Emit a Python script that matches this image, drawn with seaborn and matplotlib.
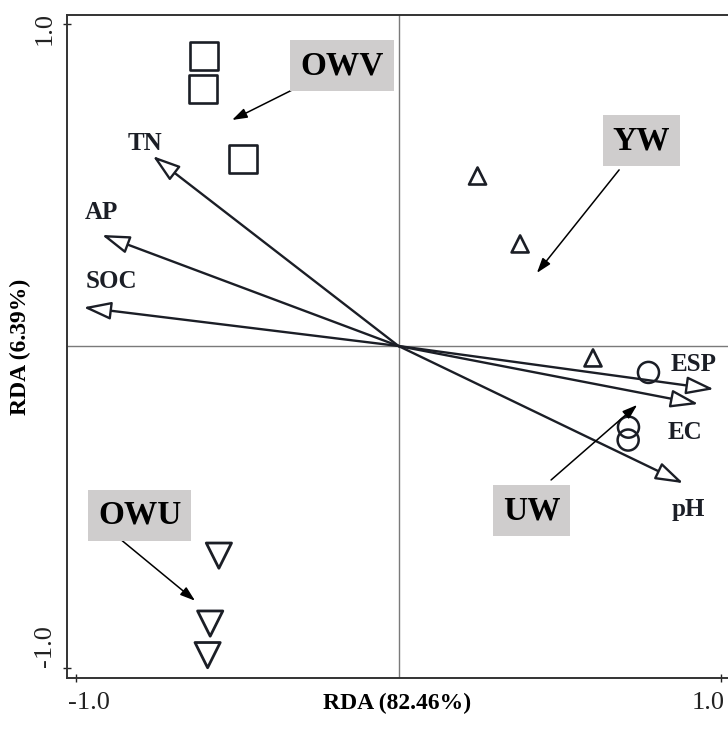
import numpy as np
import pandas as pd
import seaborn as sns
import matplotlib.pyplot as plt
from matplotlib.transforms import ScaledTranslation

# site scores (RDA1, RDA2) per group
owv_x = [-0.603, -0.606, -0.482]
owv_y = [0.901, 0.798, 0.581]
yw_x = [0.245, 0.377, 0.603]
yw_y = [0.528, 0.317, -0.037]
uw_x = [0.775, 0.713, 0.712]
uw_y = [-0.082, -0.252, -0.292]
owu_x = [-0.557, -0.584, -0.592]
owu_y = [-0.651, -0.862, -0.960]

# environmental vectors
env_names = ["TN", "AP", "SOC", "ESP", "EC", "pH"]
env_x = [-0.762, -0.920, -0.977, 0.978, 0.930, 0.883]
env_y = [0.590, 0.345, 0.120, -0.134, -0.180, -0.426]
env_lab_x = [-0.786, -0.922, -0.891, 0.915, 0.888, 0.898]
env_lab_y = [0.630, 0.416, 0.199, -0.056, -0.270, -0.509]

# group call-outs: label position, arrow start, arrow end
grp_names = ["OWV", "YW", "OWU", "UW"]
grp_lab_x = [-0.175, 0.753, -0.803, 0.412]
grp_lab_y = [0.870, 0.638, -0.525, -0.511]
grp_start_x = [-0.312, 0.684, -0.860, 0.473]
grp_start_y = [0.804, 0.547, -0.602, -0.416]
grp_end_x = [-0.516, 0.429, -0.631, 0.740]
grp_end_y = [0.702, 0.227, -0.791, -0.183]

tick_vals = [-1.0, 1.0]
tick_labels = ["-1.0", "1.0"]

sites = pd.DataFrame({
    "RDA1": owv_x + yw_x + uw_x + owu_x,
    "RDA2": owv_y + yw_y + uw_y + owu_y,
    "group": ["OWV"] * 3 + ["YW"] * 3 + ["UW"] * 3 + ["OWU"] * 3,
})

plt.rcParams["font.family"] = ["Liberation Serif", "DejaVu Serif"]

fig = plt.figure(figsize=(7.28, 7.31), dpi=100)
ax = fig.add_axes([67 / 728, 1 - 678 / 731, 661 / 728, 663 / 731])

ink = "#1b1e26"
marker_style = {
    "OWV": ("s", 420, 1.9),
    "YW": ("^", 150, 1.9),
    "UW": ("o", 230, 1.8),
    "OWU": ("v", 330, 2.0),
}
for g, (m, s, lw) in marker_style.items():
    sub = sites[sites["group"] == g]
    sns.scatterplot(data=sub, x="RDA1", y="RDA2", marker=m, s=s,
                    facecolor="none", edgecolor=ink, linewidth=lw,
                    ax=ax, zorder=3)

# cross lines through origin
ax.axhline(0, color="#7a7a7a", lw=1.0, zorder=1)
ax.axvline(0, color="#7a7a7a", lw=1.0, zorder=1)

# environmental arrows with open heads
for name, x, y, lx, ly in zip(env_names, env_x, env_y, env_lab_x, env_lab_y):
    ax.annotate("", xy=(x, y), xytext=(0, 0),
                arrowprops=dict(arrowstyle="-|>,head_length=1.7,head_width=0.55",
                                fc="white", ec=ink, lw=1.7,
                                shrinkA=0, shrinkB=0, mutation_scale=10),
                zorder=4)
    ax.text(lx, ly, name, fontsize=18, fontweight="bold", color=ink,
            ha="center", va="center", zorder=5)

# group labels in grey boxes
for name, lx, ly, sx, sy, ex, ey in zip(grp_names, grp_lab_x, grp_lab_y,
                                        grp_start_x, grp_start_y,
                                        grp_end_x, grp_end_y):
    ax.text(lx, ly, name, fontsize=24, fontweight="bold", color="black",
            ha="center", va="center", zorder=5,
            bbox=dict(boxstyle="square,pad=0.3", fc="#cfcdcd", ec="none"))
    ax.annotate("", xy=(ex, ey), xytext=(sx, sy),
                arrowprops=dict(arrowstyle="-|>,head_length=0.9,head_width=0.3",
                                fc="black", ec="black", lw=1.1,
                                shrinkA=0, shrinkB=0, mutation_scale=10),
                zorder=4)

ax.set_xlim(-1.028, 1.0216)
ax.set_ylim(-1.031, 1.028)
ax.set_xticks(tick_vals)
ax.set_xticklabels(tick_labels)
ax.set_yticks(tick_vals)
ax.set_yticklabels(tick_labels, rotation=90, va="center")
ax.tick_params(axis="both", direction="inout", length=6, width=1.0,
               labelsize=19, colors="#222222")
ax.tick_params(axis="x", pad=7)
ax.tick_params(axis="y", pad=5)

# end labels sit slightly inward, as in the original layout
xl = ax.get_xticklabels()
xl[0].set_transform(xl[0].get_transform() + ScaledTranslation(13 / 100, 0, fig.dpi_scale_trans))
xl[1].set_transform(xl[1].get_transform() + ScaledTranslation(-13 / 100, 0, fig.dpi_scale_trans))
yl = ax.get_yticklabels()
yl[0].set_transform(yl[0].get_transform() + ScaledTranslation(0, 22 / 100, fig.dpi_scale_trans))
yl[1].set_transform(yl[1].get_transform() + ScaledTranslation(0, -4 / 100, fig.dpi_scale_trans))

for side in ["left", "bottom", "top"]:
    ax.spines[side].set_color("#333333")
    ax.spines[side].set_linewidth(1.4)
ax.spines["right"].set_visible(False)

ax.set_xlabel("RDA (82.46%)", fontsize=17, fontweight="bold")
ax.set_ylabel("RDA (6.39%)", fontsize=17, fontweight="bold")
ax.xaxis.set_label_coords(0.5, -0.022)
ax.yaxis.set_label_coords(-0.055, 0.5)

fig.savefig("out.png", dpi=100)
